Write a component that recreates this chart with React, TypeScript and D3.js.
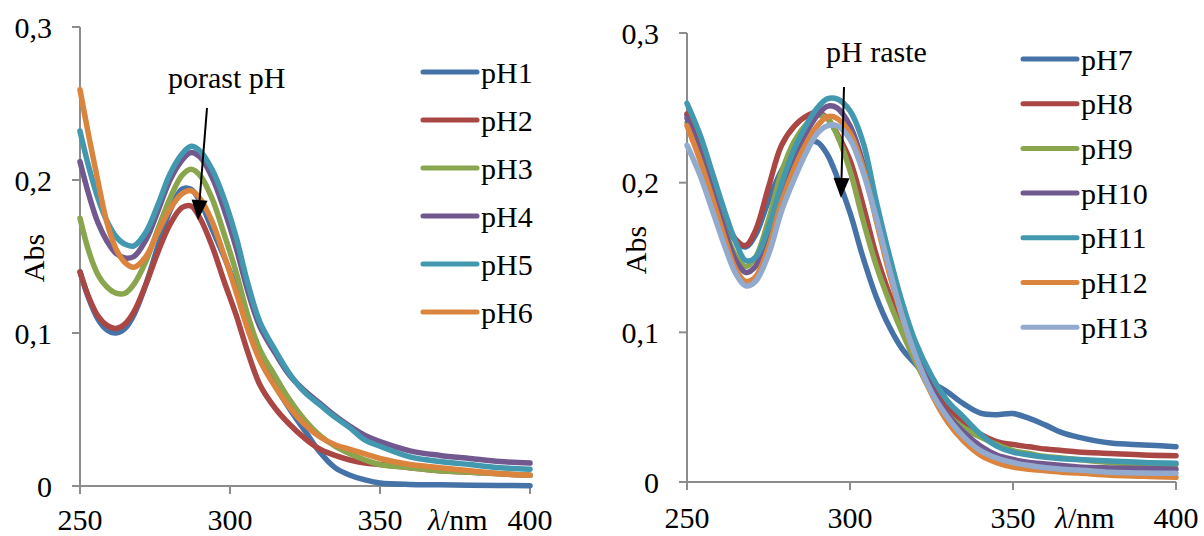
import React from "react";
import * as d3 from "d3";

// ---------- data ----------
const leftWavelengths = [250, 253, 256, 259, 262, 265, 268, 272, 276, 280, 284, 287, 290, 294, 298, 302, 306, 310, 315, 320, 325, 330, 335, 340, 345, 350, 360, 370, 380, 390, 400];
const pH1 = [0.140, 0.122, 0.109, 0.102, 0.100, 0.103, 0.112, 0.132, 0.157, 0.180, 0.194, 0.194, 0.186, 0.168, 0.150, 0.130, 0.108, 0.086, 0.066, 0.050, 0.036, 0.022, 0.012, 0.007, 0.004, 0.002, 0.001, 0.0008, 0.0005, 0.0003, 0.0002];
const pH2 = [0.140, 0.123, 0.111, 0.105, 0.103, 0.106, 0.114, 0.132, 0.153, 0.171, 0.182, 0.183, 0.175, 0.157, 0.134, 0.112, 0.087, 0.066, 0.051, 0.040, 0.031, 0.024, 0.020, 0.017, 0.015, 0.014, 0.012, 0.010, 0.009, 0.008, 0.007];
const pH3 = [0.175, 0.153, 0.138, 0.130, 0.126, 0.126, 0.132, 0.147, 0.168, 0.188, 0.203, 0.207, 0.203, 0.188, 0.165, 0.140, 0.111, 0.089, 0.072, 0.056, 0.043, 0.033, 0.026, 0.021, 0.017, 0.014, 0.012, 0.010, 0.009, 0.008, 0.007];
const pH4 = [0.212, 0.190, 0.172, 0.160, 0.152, 0.149, 0.150, 0.161, 0.180, 0.200, 0.213, 0.218, 0.215, 0.202, 0.181, 0.156, 0.127, 0.104, 0.087, 0.072, 0.062, 0.054, 0.046, 0.039, 0.033, 0.029, 0.023, 0.020, 0.018, 0.016, 0.015];
const pH5 = [0.232, 0.208, 0.188, 0.173, 0.163, 0.158, 0.157, 0.166, 0.184, 0.204, 0.217, 0.222, 0.219, 0.207, 0.188, 0.163, 0.132, 0.107, 0.089, 0.073, 0.061, 0.053, 0.045, 0.038, 0.030, 0.026, 0.019, 0.016, 0.014, 0.012, 0.011];
const pH6 = [0.259, 0.228, 0.199, 0.172, 0.155, 0.146, 0.143, 0.150, 0.166, 0.181, 0.191, 0.193, 0.188, 0.173, 0.151, 0.127, 0.102, 0.082, 0.065, 0.051, 0.040, 0.032, 0.027, 0.024, 0.021, 0.018, 0.014, 0.012, 0.010, 0.008, 0.007];

const rightWavelengths = [250, 254, 258, 262, 265, 268, 271, 275, 279, 283, 287, 290, 293, 296, 300, 304, 308, 312, 316, 320, 325, 330, 335, 340, 345, 350, 355, 360, 365, 370, 380, 390, 400];
const pH7 = [0.245, 0.222, 0.196, 0.172, 0.161, 0.157, 0.165, 0.188, 0.208, 0.221, 0.227, 0.227, 0.219, 0.204, 0.180, 0.150, 0.124, 0.104, 0.089, 0.079, 0.067, 0.060, 0.052, 0.046, 0.045, 0.0457, 0.0425, 0.038, 0.033, 0.030, 0.026, 0.0248, 0.0236];
const pH8 = [0.246, 0.224, 0.198, 0.174, 0.162, 0.158, 0.168, 0.197, 0.225, 0.238, 0.245, 0.247, 0.243, 0.233, 0.215, 0.185, 0.152, 0.126, 0.104, 0.085, 0.064, 0.049, 0.039, 0.032, 0.027, 0.025, 0.0235, 0.022, 0.021, 0.020, 0.019, 0.018, 0.0175];
const pH9 = [0.240, 0.218, 0.193, 0.166, 0.151, 0.144, 0.150, 0.175, 0.207, 0.228, 0.240, 0.245, 0.243, 0.232, 0.208, 0.175, 0.145, 0.121, 0.100, 0.081, 0.060, 0.045, 0.036, 0.030, 0.025, 0.021, 0.019, 0.017, 0.016, 0.015, 0.013, 0.012, 0.0115];
const pH10 = [0.243, 0.220, 0.193, 0.165, 0.148, 0.140, 0.144, 0.165, 0.195, 0.218, 0.235, 0.245, 0.251, 0.250, 0.238, 0.213, 0.177, 0.142, 0.112, 0.087, 0.063, 0.045, 0.033, 0.024, 0.018, 0.015, 0.013, 0.012, 0.011, 0.010, 0.0094, 0.009, 0.0085];
const pH11 = [0.253, 0.232, 0.205, 0.178, 0.160, 0.148, 0.150, 0.170, 0.199, 0.223, 0.240, 0.250, 0.256, 0.256, 0.248, 0.227, 0.188, 0.152, 0.120, 0.094, 0.071, 0.054, 0.043, 0.032, 0.024, 0.020, 0.018, 0.0165, 0.0155, 0.015, 0.014, 0.013, 0.0125];
const pH12 = [0.238, 0.215, 0.188, 0.160, 0.142, 0.134, 0.137, 0.157, 0.187, 0.210, 0.228, 0.238, 0.244, 0.243, 0.233, 0.210, 0.175, 0.140, 0.110, 0.084, 0.059, 0.040, 0.027, 0.018, 0.013, 0.010, 0.0085, 0.0075, 0.0065, 0.006, 0.0045, 0.0038, 0.0031];
const pH13 = [0.225, 0.205, 0.180, 0.155, 0.139, 0.131, 0.134, 0.152, 0.181, 0.203, 0.222, 0.233, 0.238, 0.238, 0.229, 0.207, 0.177, 0.143, 0.111, 0.085, 0.060, 0.043, 0.030, 0.021, 0.016, 0.013, 0.011, 0.0095, 0.0085, 0.008, 0.0065, 0.006, 0.0058];

const leftLabels = ["pH1", "pH2", "pH3", "pH4", "pH5", "pH6"];
const rightLabels = ["pH7", "pH8", "pH9", "pH10", "pH11", "pH12", "pH13"];
const xTicks = [250, 300, 350, 400];
const yTicks = [0, 0.1, 0.2, 0.3];
const yTickLabels = ["0", "0,1", "0,2", "0,3"];
const palette = ["#4572A7", "#AA4643", "#89A54E", "#71588F", "#4198AF", "#DB843D", "#93AACF"];

const FONT = "'Liberation Serif', 'Noto Serif', 'DejaVu Serif', 'Times New Roman', Times, serif";
const AXIS = "#8c8c8c";
const txt: React.CSSProperties = { fontFamily: FONT, fontSize: "30px" };

type PanelProps = {
  wl: number[];
  series: number[][];
  labels: string[];
  xRange: [number, number];
  yRange: [number, number];
  legendX: number;
  legendY0: number;
  legendStep: number;
  xLabelY: number;
  lambdaX: number;
  absX: number;
  absY: number;
  note: string;
  noteX: number;
  noteY: number;
  arrow: [number, number, number, number];
};

function Panel(p: PanelProps) {
  const x = d3.scaleLinear().domain([250, 400]).range(p.xRange);
  const y = d3.scaleLinear().domain([0, 0.3]).range(p.yRange);
  const line = d3
    .line<[number, number]>()
    .x((d) => x(d[0]))
    .y((d) => y(d[1]))
    .curve(d3.curveCatmullRom.alpha(0.5));
  const [ax1, ay1, ax2, ay2] = p.arrow;
  const ang = Math.atan2(ay2 - ay1, ax2 - ax1);
  const hl = 20, hw = 8;
  const bx = ax2 - hl * Math.cos(ang), by = ay2 - hl * Math.sin(ang);
  const head = [
    [ax2, ay2],
    [bx + hw * Math.sin(ang), by - hw * Math.cos(ang)],
    [bx - hw * Math.sin(ang), by + hw * Math.cos(ang)],
  ];
  return (
    <g>
      <line x1={p.xRange[0]} x2={p.xRange[0]} y1={y(0.3)} y2={y(0)} stroke={AXIS} strokeWidth={2} />
      <line x1={p.xRange[0]} x2={p.xRange[1]} y1={y(0)} y2={y(0)} stroke={AXIS} strokeWidth={2} />
      {yTicks.map((t, i) => (
        <g key={"y" + t}>
          <line x1={p.xRange[0] - 8} x2={p.xRange[0]} y1={y(t)} y2={y(t)} stroke={AXIS} strokeWidth={2} />
          <text x={p.xRange[0] - 28} y={y(t)} dy="0.35em" textAnchor="end" style={txt} fill="#000">
            {yTickLabels[i]}
          </text>
        </g>
      ))}
      {xTicks.map((t) => (
        <g key={"x" + t}>
          <line x1={x(t)} x2={x(t)} y1={y(0)} y2={y(0) + 8} stroke={AXIS} strokeWidth={2} />
          <text x={x(t)} y={p.xLabelY} textAnchor="middle" style={txt} fill="#000">
            {t}
          </text>
        </g>
      ))}
      <text x={p.lambdaX} y={p.xLabelY} style={txt} fill="#000">
        <tspan fontStyle="italic">λ</tspan>
        <tspan>/nm</tspan>
      </text>
      <text
        transform={`translate(${p.absX},${p.absY}) rotate(-90)`}
        textAnchor="middle"
        style={txt}
        fill="#000"
      >
        Abs
      </text>
      {p.series.map((s, i) => (
        <path
          key={p.labels[i]}
          d={line(p.wl.map((w, j) => [w, s[j]] as [number, number])) || ""}
          fill="none"
          stroke={palette[i]}
          strokeWidth={5.5}
          strokeLinejoin="round"
          strokeLinecap="round"
        />
      ))}
      {p.labels.map((l, i) => {
        const ly = p.legendY0 + i * p.legendStep;
        return (
          <g key={"lg" + l}>
            <line x1={p.legendX} x2={p.legendX + 54} y1={ly} y2={ly} stroke={palette[i]} strokeWidth={5} strokeLinecap="round" />
            <text x={p.legendX + 58} y={ly} dy="0.35em" style={txt} fill="#000">
              {l}
            </text>
          </g>
        );
      })}
      <text x={p.noteX} y={p.noteY} style={txt} fill="#000">
        {p.note}
      </text>
      <line x1={ax1} y1={ay1} x2={bx} y2={by} stroke="#000" strokeWidth={2} />
      <polygon points={head.map((q) => q.join(",")).join(" ")} fill="#000" />
    </g>
  );
}

export default function App() {
  return (
    <svg
      width={1204}
      height={536}
      style={{ position: "absolute", left: 0, top: 0, background: "#fff" }}
    >
      <rect width={1204} height={536} fill="#fff" />
      <Panel
        wl={leftWavelengths}
        series={[pH1, pH2, pH3, pH4, pH5, pH6]}
        labels={leftLabels}
        xRange={[80, 530]}
        yRange={[486, 27]}
        legendX={423}
        legendY0={72}
        legendStep={48}
        xLabelY={530}
        lambdaX={428}
        absX={44}
        absY={258}
        note="porast pH"
        noteX={168}
        noteY={88}
        arrow={[207, 108, 198, 220]}
      />
      <Panel
        wl={rightWavelengths}
        series={[pH7, pH8, pH9, pH10, pH11, pH12, pH13]}
        labels={rightLabels}
        xRange={[687, 1176]}
        yRange={[482, 33]}
        legendX={1023}
        legendY0={59}
        legendStep={44.7}
        xLabelY={528}
        lambdaX={1055}
        absX={646}
        absY={250}
        note="pH raste"
        noteX={826}
        noteY={62}
        arrow={[844, 87, 841, 198]}
      />
    </svg>
  );
}
